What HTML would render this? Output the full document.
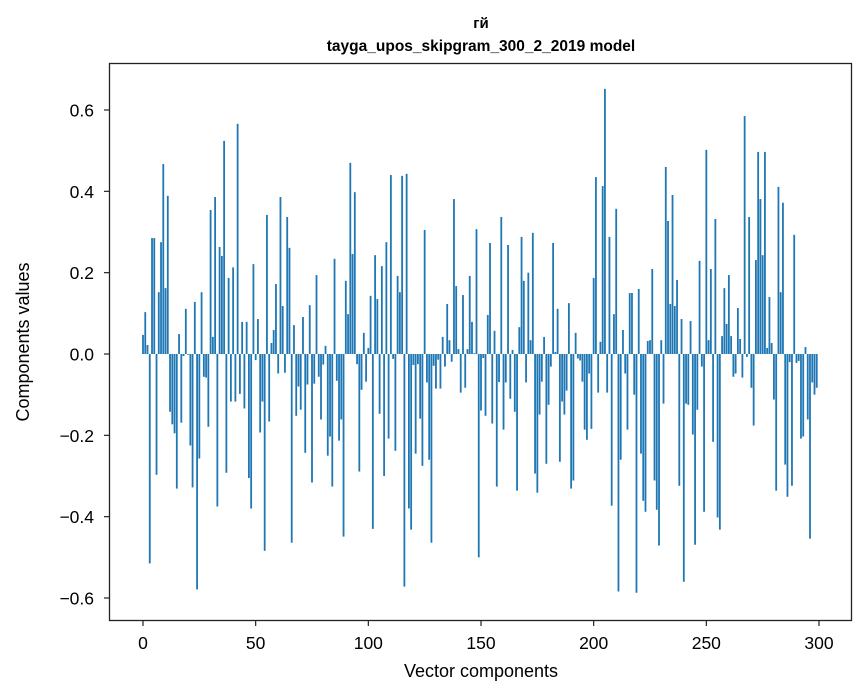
<!DOCTYPE html>
<html><head><meta charset="utf-8"><style>
html,body{margin:0;padding:0;background:#fff;}
svg{display:block;font-family:"Liberation Sans","DejaVu Sans",sans-serif;}
</style></head><body>
<svg id="chart" width="867" height="696" viewBox="0 0 867 696" xmlns="http://www.w3.org/2000/svg">
<rect x="0" y="0" width="867" height="696" fill="#fff"/>
<text x="481" y="28" text-anchor="middle" font-size="15" font-weight="bold" font-family="Liberation Sans, DejaVu Sans, sans-serif">гй</text>
<text x="481" y="51" text-anchor="middle" font-size="15.5" font-weight="bold">tayga_upos_skipgram_300_2_2019 model</text>
<g id="bars"></g>
<g id="xticks"></g>
<g id="yticks"></g>
<rect x="109.5" y="63.5" width="742" height="557" fill="none" stroke="#222" stroke-width="1.3"/>
<text x="481" y="677" text-anchor="middle" font-size="18">Vector components</text>
<text x="0" y="0" transform="translate(29,342) rotate(-90)" text-anchor="middle" font-size="18">Components values</text>
</svg>
<script>
const values = [
0.047,0.103,0.022,-0.515,0.285,0.285,-0.297,0.152,0.275,0.467,
0.162,0.389,-0.142,-0.173,-0.195,-0.331,0.049,-0.169,-0.005,0.111,
-0.002,-0.225,-0.328,0.128,-0.579,-0.257,0.152,-0.056,-0.058,-0.179,
0.354,0.042,0.386,-0.375,0.263,0.241,0.524,-0.292,0.187,-0.117,
0.213,-0.117,0.566,-0.098,0.079,-0.134,0.079,-0.305,-0.38,0.221,
-0.015,0.086,-0.193,-0.117,-0.484,0.342,-0.166,0.027,0.059,0.172,
-0.048,0.386,0.118,-0.046,0.337,0.261,-0.464,0.071,-0.152,-0.080,
-0.137,0.091,-0.243,-0.075,0.120,-0.316,-0.073,0.194,-0.056,-0.161,
-0.026,0.020,-0.25,-0.203,-0.326,0.234,-0.066,-0.213,-0.161,-0.449,
0.180,0.098,0.470,0.246,0.398,-0.025,-0.289,-0.088,0.052,-0.068,
0.015,0.143,-0.43,0.243,0.135,-0.147,0.216,-0.30,0.275,-0.208,
0.44,-0.012,-0.238,0.192,0.152,0.438,-0.572,0.443,-0.38,-0.432,
-0.027,-0.245,-0.025,-0.159,-0.275,0.305,-0.07,-0.26,-0.464,-0.029,
-0.085,-0.014,-0.085,0.042,-0.031,0.123,0.034,-0.019,0.381,0.167,
0.012,-0.095,0.145,-0.083,0.012,0.192,0.079,0.002,0.307,-0.5,
-0.139,-0.01,-0.152,0.096,0.273,-0.171,0.057,-0.326,-0.069,0.337,
-0.186,-0.07,0.268,-0.11,0.01,-0.142,-0.336,0.066,0.288,0.18,
-0.07,0.2,0.034,0.298,-0.294,-0.341,-0.149,-0.068,0.042,-0.27,
-0.125,-0.031,0.273,0.005,0.111,-0.265,-0.117,-0.149,-0.09,0.125,
-0.331,-0.311,0.052,-0.011,-0.016,-0.068,-0.186,-0.211,-0.048,-0.184,
0.187,0.435,-0.095,0.03,0.413,0.652,-0.095,0.288,-0.373,0.098,
0.357,-0.584,-0.26,0.059,-0.048,-0.186,0.15,0.15,-0.1,-0.587,
0.16,-0.245,-0.361,-0.388,0.032,0.034,0.209,-0.311,-0.383,-0.471,
0.034,-0.122,0.46,0.327,0.123,0.391,0.118,0.182,-0.324,0.086,
-0.56,-0.122,-0.125,0.081,-0.198,-0.469,-0.137,0.229,-0.031,-0.388,
0.502,0.034,0.209,-0.216,0.332,-0.402,-0.432,0.044,0.162,0.074,
0.194,0.044,-0.056,-0.048,0.113,0.037,-0.058,0.585,-0.007,0.337,
-0.083,-0.176,0.231,0.497,0.381,0.243,0.497,0.015,0.14,0.027,
-0.112,-0.336,0.411,0.152,0.372,-0.272,-0.351,-0.02,-0.324,0.293,
-0.022,-0.017,-0.208,-0.203,0.017,-0.161,-0.454,-0.07,-0.1,-0.083
];
const xTicks = [0,50,100,150,200,250,300];
const yTicks = [-0.6,-0.4,-0.2,0.0,0.2,0.4,0.6];
const yTickLabels = ["\u22120.6","\u22120.4","\u22120.2","0.0","0.2","0.4","0.6"];

const NS = "http://www.w3.org/2000/svg";
function xScale(v){ return 143 + v * (676/300); }
function yScale(v){ return 354 - v * (244/0.6); }

const barsG = document.getElementById('bars');
const bw = 0.8 * (676/300);
values.forEach(function(v,i){
  const r = document.createElementNS(NS,'rect');
  const y0 = yScale(0), y1 = yScale(v);
  r.setAttribute('x', xScale(i) - bw/2);
  r.setAttribute('y', Math.min(y0,y1));
  r.setAttribute('width', bw);
  r.setAttribute('height', Math.max(Math.abs(y1-y0),0.01));
  r.setAttribute('fill', '#1f77b4');
  
  
  barsG.appendChild(r);
});

const xg = document.getElementById('xticks');
xTicks.forEach(function(t){
  const x = xScale(t);
  const l = document.createElementNS(NS,'line');
  l.setAttribute('x1',x); l.setAttribute('x2',x);
  l.setAttribute('y1',620.5); l.setAttribute('y2',626);
  l.setAttribute('stroke','#222'); l.setAttribute('stroke-width','1.2');
  
  
  xg.appendChild(l);
  const tx = document.createElementNS(NS,'text');
  tx.setAttribute('x',x); tx.setAttribute('y',649);
  tx.setAttribute('text-anchor','middle'); tx.setAttribute('font-size','17.5');
  tx.textContent = String(t);
  
  
  xg.appendChild(tx);
});

const yg = document.getElementById('yticks');
yTicks.forEach(function(t,i){
  const y = yScale(t);
  const l = document.createElementNS(NS,'line');
  l.setAttribute('x1',104); l.setAttribute('x2',109.5);
  l.setAttribute('y1',y); l.setAttribute('y2',y);
  l.setAttribute('stroke','#222'); l.setAttribute('stroke-width','1.2');
  
  
  yg.appendChild(l);
  const tx = document.createElementNS(NS,'text');
  tx.setAttribute('x',94); tx.setAttribute('y',y+6.5);
  tx.setAttribute('text-anchor','end'); tx.setAttribute('font-size','17.5');
  tx.textContent = yTickLabels[i];
  
  
  yg.appendChild(tx);
});
</script>
</body></html>
